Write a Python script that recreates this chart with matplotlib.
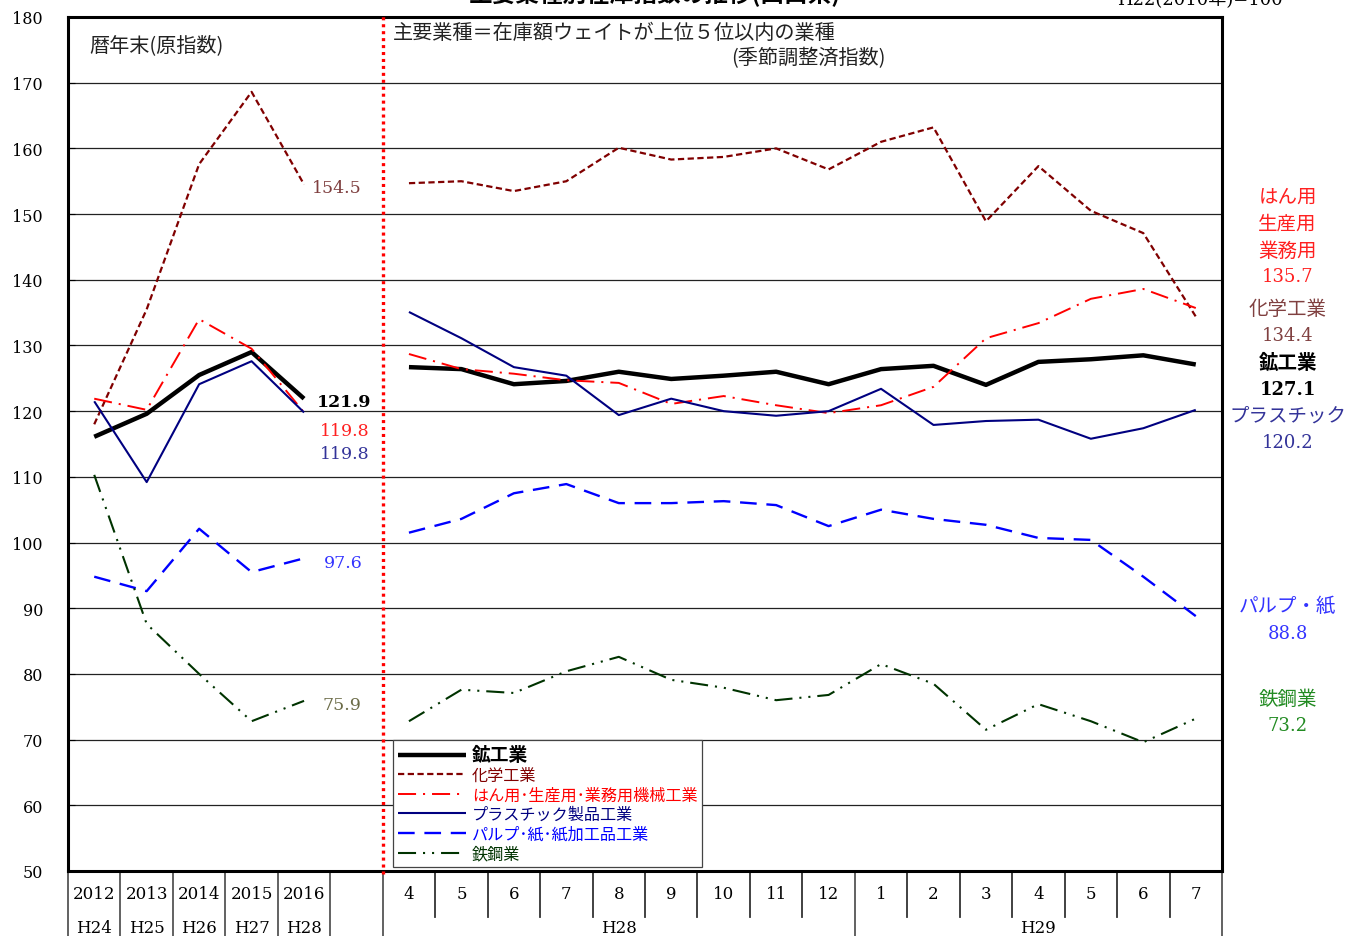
"""主要業種別在庫指数の推移(山口県) - recreated with matplotlib."""

import matplotlib

matplotlib.use("Agg")
import matplotlib.pyplot as plt
import matplotlib.transforms as mtransforms

plt.rcParams["font.family"] = ["DejaVu Serif", "Noto Sans CJK JP"]
plt.rcParams["lines.scale_dashes"] = False

JP = ["Noto Sans CJK JP", "DejaVu Sans"]
NUM = ["DejaVu Serif", "Noto Sans CJK JP"]

# ---- data -------------------------------------------------------------
year_labels = ["2012", "2013", "2014", "2015", "2016"]
era_labels = ["H24", "H25", "H26", "H27", "H28"]
month_labels = ["4", "5", "6", "7", "8", "9", "10", "11", "12",
                "1", "2", "3", "4", "5", "6", "7"]

mining_year = [116.1, 119.6, 125.5, 129.0, 121.9]
mining_month = [126.7, 126.4, 124.1, 124.6, 126.0, 124.9, 125.4, 126.0, 124.1,
                126.4, 126.9, 124.0, 127.5, 127.9, 128.5, 127.1]

chem_year = [118.0, 135.5, 157.6, 168.6, 154.5]
chem_month = [154.7, 155.0, 153.5, 155.0, 160.1, 158.3, 158.7, 160.0, 156.8,
              161.0, 163.2, 148.9, 157.3, 150.5, 147.1, 134.4]

mach_year = [121.9, 120.2, 134.0, 129.5, 119.8]
mach_month = [128.7, 126.4, 125.7, 124.7, 124.3, 121.1, 122.3, 120.9, 119.7,
              120.9, 123.7, 131.1, 133.4, 137.1, 138.6, 135.7]

plastic_year = [121.5, 109.2, 124.1, 127.6, 119.8]
plastic_month = [135.1, 131.1, 126.7, 125.4, 119.4, 121.9, 120.0, 119.3, 120.0,
                 123.4, 117.9, 118.5, 118.7, 115.8, 117.4, 120.2]

pulp_year = [94.8, 92.6, 102.1, 95.5, 97.6]
pulp_month = [101.5, 103.6, 107.5, 108.9, 106.0, 106.0, 106.3, 105.7, 102.5,
              105.0, 103.6, 102.7, 100.7, 100.4, 94.8, 88.8]

steel_year = [110.3, 87.6, 80.0, 72.8, 75.9]
steel_month = [72.8, 77.6, 77.1, 80.4, 82.6, 79.1, 77.9, 76.0, 76.8,
               81.5, 78.5, 71.5, 75.4, 72.8, 69.6, 73.2]

series = [
    ("鉱工業", mining_year, mining_month, "black", 3.2, "-"),
    ("化学工業", chem_year, chem_month, "#800000", 1.6, (0, (4.5, 2.5))),
    ("はん用･生産用･業務用機械工業", mach_year, mach_month, "#ff0000", 1.4, (0, (13, 5, 1.5, 5))),
    ("プラスチック製品工業", plastic_year, plastic_month, "#000080", 1.5, "-"),
    ("パルプ･紙･紙加工品工業", pulp_year, pulp_month, "#0000ff", 1.7, (0, (12, 7))),
    ("鉄鋼業", steel_year, steel_month, "#003300", 1.5, (0, (13, 5, 1.5, 5, 1.5, 5))),
]

x_year = list(range(len(year_labels)))
x_month = list(range(len(year_labels) + 1, len(year_labels) + 1 + len(month_labels)))
n_slots = len(year_labels) + 1 + len(month_labels)

# ---- figure -----------------------------------------------------------
fig = plt.figure(figsize=(13.5, 9.37), dpi=100)
ax = fig.add_axes([68 / 1350, 65 / 937, 1154 / 1350, 854 / 937])

for label, yv, mv, color, lw, ls in series:
    ax.plot(x_year, yv, color=color, lw=lw, ls=ls, solid_capstyle="butt")
    ax.plot(x_month, mv, color=color, lw=lw, ls=ls, label=label, solid_capstyle="butt")

ax.set_xlim(-0.5, n_slots - 0.5)
ax.set_ylim(50, 180)
ax.set_yticks(range(50, 181, 10))
ax.grid(True, axis="y", color="#222222", lw=0.9)
ax.set_axisbelow(True)
ax.set_xticks([])
ax.tick_params(axis="y", direction="in", length=5, pad=18, labelsize=11.5)
for spine in ax.spines.values():
    spine.set_linewidth(2.2)

# red dotted divider between annual and monthly parts
ax.plot([5.5, 5.5], [49.5, 180.5], color="#ff0000", lw=2.4, ls=(0, (2.2, 2.8)),
        clip_on=False, zorder=5)

# ---- table under the x axis -----------------------------------------
trans = mtransforms.blended_transform_factory(ax.transData, ax.transAxes)
row1_bottom = -46 / 854
fig_bottom = -70 / 854
full_lines = [-0.5, 0.5, 1.5, 2.5, 3.5, 4.5, 5.5, 14.5, n_slots - 0.5]
for xb in full_lines:
    ax.plot([xb, xb], [0, fig_bottom], transform=trans, color="#555555", lw=1.3, clip_on=False)
for xb in [k + 0.5 for k in range(6, n_slots - 1) if k + 0.5 not in full_lines]:
    ax.plot([xb, xb], [0, row1_bottom], transform=trans, color="#333333", lw=1.3, clip_on=False)

for xi, lab in zip(x_year, year_labels):
    ax.text(xi, -23 / 854, lab, transform=trans, ha="center", va="center", fontsize=12, family=NUM)
for xi, lab in zip(x_year, era_labels):
    ax.text(xi, -57 / 854, lab, transform=trans, ha="center", va="center", fontsize=12, family=NUM)
for xi, lab in zip(x_month, month_labels):
    ax.text(xi, -23 / 854, lab, transform=trans, ha="center", va="center", fontsize=12, family=NUM)
ax.text((x_month[0] + x_month[8]) / 2, -57 / 854, "H28", transform=trans,
        ha="center", va="center", fontsize=12, family=NUM)
ax.text((x_month[9] + x_month[-1]) / 2, -57 / 854, "H29", transform=trans,
        ha="center", va="center", fontsize=12, family=NUM)

# ---- annotations inside the plot -------------------------------------
ax.text(-0.1, 175.8, "暦年末(原指数)", fontsize=14.5, family=JP, va="center", color="#222222")
ax.text(5.7, 177.6, "主要業種＝在庫額ウェイトが上位５位以内の業種", fontsize=14.5, family=JP,
        va="center", color="#222222")
ax.text(15.08, 173.8, "(季節調整済指数)", fontsize=14.5, family=JP, va="center", ha="right",
        color="#222222")

# (text, x of right edge, y, colour, weight)
end_labels = [
    ("154.5", 5.1, 154.0, "#7f3f3f", "normal"),
    ("121.9", 5.29, 121.4, "black", "bold"),
    ("119.8", 5.24, 117.0, "#ff2020", "normal"),
    ("119.8", 5.24, 113.5, "#333399", "normal"),
    ("97.6", 5.12, 97.0, "#3333ff", "normal"),
    ("75.9", 5.09, 75.3, "#6b6b47", "normal"),
]
for txt, xv, yv, color, weight in end_labels:
    ax.text(xv, yv, txt, fontsize=12.5, family=NUM, ha="right", va="center",
            color=color, fontweight=weight)

# labels at the right end of the monthly series
right_labels = [
    ("はん用", 152.7, "#ff2020", "normal", JP),
    ("生産用", 148.6, "#ff2020", "normal", JP),
    ("業務用", 144.5, "#ff2020", "normal", JP),
    ("135.7", 140.6, "#ff2020", "normal", NUM),
    ("化学工業", 135.7, "#804040", "normal", JP),
    ("134.4", 131.6, "#804040", "normal", NUM),
    ("鉱工業", 127.5, "black", "bold", JP),
    ("127.1", 123.4, "black", "bold", NUM),
    ("プラスチック", 119.4, "#333399", "normal", JP),
    ("120.2", 115.3, "#333399", "normal", NUM),
    ("パルプ・紙", 90.5, "#3333ff", "normal", JP),
    ("88.8", 86.2, "#3333ff", "normal", NUM),
    ("鉄鋼業", 76.3, "#228b22", "normal", JP),
    ("73.2", 72.2, "#228b22", "normal", NUM),
]
for txt, yv, color, weight, fam in right_labels:
    size = 14 if fam is JP else 13
    ax.text(22.75, yv, txt, fontsize=size, family=fam, ha="center", va="center",
            color=color, fontweight=weight, clip_on=False)

# ---- legend ----------------------------------------------------------
leg = ax.legend(loc="lower left", bbox_to_anchor=((393 - 68) / 1154, 4 / 854),
                borderaxespad=0, prop={"family": JP, "size": 11.6}, labelcolor="linecolor",
                handlelength=4.2, handletextpad=0.4, labelspacing=0.16,
                borderpad=0.3, fancybox=False, framealpha=1, edgecolor="#444444")
leg.get_frame().set_linewidth(0.9)
first = leg.get_texts()[0]
first.set_fontweight("bold")
first.set_fontsize(13.5)

# ---- cropped title and base note at the very top ---------------------
fig.text(655 / 1350, 1 - 7 / 937, "主要業種別在庫指数の推移(山口県)", family=JP,
         fontsize=17, fontweight="bold", ha="center", va="bottom")
fig.text(1200 / 1350, 1 - 9 / 937, "H22(2010年)=100", family=NUM,
         fontsize=13, ha="center", va="bottom")

fig.savefig("out.png", dpi=100)
